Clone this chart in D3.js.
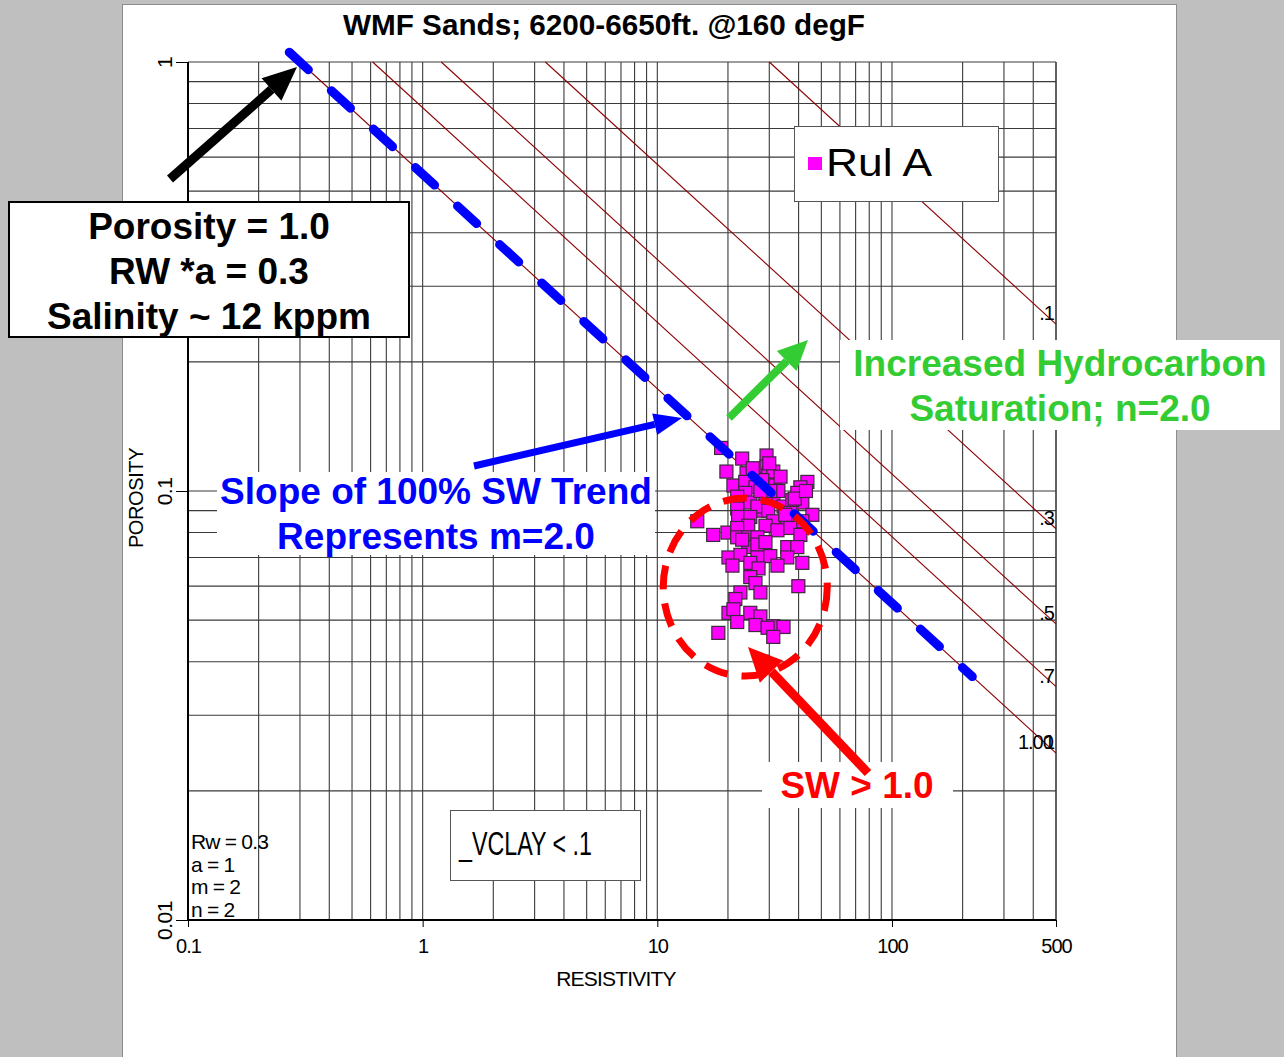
<!DOCTYPE html>
<html>
<head>
<meta charset="utf-8">
<script src="https://cdn.jsdelivr.net/npm/d3@7"></script>
<style>
  body { margin: 0; background: #bfbfbf; }
  svg { display: block; font-family: "Liberation Sans", Arial, sans-serif; }
</style>
</head>
<body>
<div id="chart"></div>
<script>
// Archie parameters shown on the plot
const Rw = 0.3, aPar = 1, mPar = 2, nPar = 2;

// saturation lines and their labels
const swValues = [1.0, 0.7, 0.5, 0.3, 0.1];
const swLabels = ["1.00", ".7", ".5", ".3", ".1"];

// axis ticks
const xTickValues = [0.1, 1, 10, 100, 500];
const xTickLabels = ["0.1", "1", "10", "100", "500"];
const yTickValues = [0.01, 0.1, 1];
const yTickLabels = ["0.01", "0.1", "1"];

// blue dashed 100% SW trend (resistivity range)
const trendR = [0.27, 220];

// Rul A samples (resistivity, porosity)
const resistivity = [
  18.7, 23.0, 29.2, 29.2, 19.7, 24.0, 29.7, 31.2, 21.1, 23.7,
  28.0, 31.9, 43.6, 40.7, 39.5, 41.5, 26.2, 23.7, 21.9, 31.2,
  28.9, 24.9, 27.5, 21.9, 26.7, 29.7, 34.5, 36.9, 45.8, 41.5,
  14.8, 22.1, 24.9, 24.4, 31.2, 28.9, 35.8, 19.9, 17.3, 21.9,
  21.9, 24.4, 26.7, 32.5, 36.9, 40.7, 35.8, 39.5, 24.4, 26.7,
  20.1, 22.6, 26.7, 30.3, 35.8, 41.5, 20.9, 24.9, 27.0, 32.5,
  24.9, 26.2, 39.9, 22.6, 27.5, 21.5, 20.1, 21.1, 24.9, 27.5,
  21.9, 26.2, 31.2, 34.5, 29.5, 31.2, 18.2, 28.0, 32.8, 37.6,
  35.1, 23.0, 28.9, 30.3, 27.5, 33.5, 30.0, 25.5, 38.5, 43.0
];
const porosity = [
  0.126, 0.119, 0.121, 0.114, 0.111, 0.110, 0.109, 0.111, 0.103, 0.105,
  0.106, 0.103, 0.105, 0.102, 0.099, 0.094, 0.102, 0.099, 0.097, 0.098,
  0.094, 0.094, 0.090, 0.091, 0.092, 0.090, 0.092, 0.089, 0.088, 0.085,
  0.085, 0.087, 0.087, 0.083, 0.085, 0.083, 0.086, 0.080, 0.079, 0.082,
  0.078, 0.078, 0.078, 0.081, 0.082, 0.079, 0.074, 0.074, 0.074, 0.075,
  0.070, 0.071, 0.070, 0.0705, 0.070, 0.068, 0.067, 0.068, 0.066, 0.067,
  0.063, 0.061, 0.060, 0.058, 0.058, 0.056, 0.052, 0.053, 0.052, 0.051,
  0.0495, 0.0487, 0.0484, 0.0482, 0.048, 0.0457, 0.0467, 0.040, 0.100, 0.0953,
  0.088, 0.077, 0.076, 0.100, 0.100, 0.108, 0.116, 0.113, 0.096, 0.100
];

const width = 1284, height = 1057;
const marginLeft = 188, marginRight = 1056, marginTop = 62, marginBottom = 920;

const x = d3.scaleLog([0.1, 500], [marginLeft, marginRight]);
const y = d3.scaleLog([0.01, 1], [marginBottom, marginTop]);

// Rt for a given porosity and saturation (Archie)
const archieR = (phi, sw) => aPar * Rw / (Math.pow(phi, mPar) * Math.pow(sw, nPar));
const archiePhi = (r, sw) => Math.pow(aPar * Rw / (r * Math.pow(sw, nPar)), 1 / mPar);

const svg = d3.select("#chart").append("svg")
  .attr("width", width)
  .attr("height", height)
  .attr("viewBox", [0, 0, width, height]);

// page
svg.append("rect").attr("width", width).attr("height", height).attr("fill", "#bfbfbf");
svg.append("rect")
  .attr("x", 122.5).attr("y", 4.5).attr("width", 1054).attr("height", height)
  .attr("fill", "#fff").attr("stroke", "#8c8c8c");

// title
svg.append("text")
  .attr("x", 604).attr("y", 35)
  .attr("text-anchor", "middle")
  .attr("font-size", 30).attr("font-weight", 700)
  .attr("textLength", 522).attr("lengthAdjust", "spacingAndGlyphs")
  .text("WMF Sands; 6200-6650ft. @160 degF");

// log grid
const xGrid = [], yGrid = [];
[0.1, 1, 10, 100].forEach((d) => d3.range(1, 10).forEach((k) => { if (d * k <= 500) xGrid.push(d * k); }));
xGrid.push(500);
[0.01, 0.1].forEach((d) => d3.range(1, 10).forEach((k) => yGrid.push(d * k)));
yGrid.push(1);

const grid = svg.append("g").attr("stroke", "#3a3a3a").attr("stroke-width", 1.1);
grid.selectAll("line.v").data(xGrid).join("line")
  .attr("class", "v")
  .attr("x1", (d) => x(d)).attr("x2", (d) => x(d))
  .attr("y1", marginTop).attr("y2", marginBottom);
grid.selectAll("line.h").data(yGrid).join("line")
  .attr("class", "h")
  .attr("y1", (d) => y(d)).attr("y2", (d) => y(d))
  .attr("x1", marginLeft).attr("x2", marginRight);

// axes
svg.append("line").attr("x1", marginLeft).attr("x2", marginLeft)
  .attr("y1", marginTop).attr("y2", marginBottom).attr("stroke", "#000").attr("stroke-width", 2);
svg.append("line").attr("x1", marginLeft).attr("x2", marginRight)
  .attr("y1", marginBottom).attr("y2", marginBottom).attr("stroke", "#000").attr("stroke-width", 2);

svg.append("g")
  .attr("transform", `translate(0,${marginBottom})`)
  .call(d3.axisBottom(x).tickValues(xTickValues).tickFormat((d, i) => xTickLabels[i]).tickSize(7).tickPadding(12))
  .call((g) => g.select(".domain").remove())
  .call((g) => g.selectAll(".tick line").attr("stroke", "#000"))
  .call((g) => g.selectAll(".tick text")
    .attr("font-size", 20).attr("fill", "#000").attr("letter-spacing", -1)
    .attr("font-family", "Liberation Sans, Arial, sans-serif"));

svg.append("g")
  .attr("transform", `translate(${marginLeft},0)`)
  .call(d3.axisLeft(y).tickValues(yTickValues).tickFormat((d, i) => yTickLabels[i]).tickSize(12))
  .call((g) => g.select(".domain").remove())
  .call((g) => g.selectAll(".tick line").attr("stroke", "#000"))
  .call((g) => g.selectAll(".tick text")
    .attr("font-size", 21).attr("fill", "#000").attr("letter-spacing", -0.5)
    .attr("font-family", "Liberation Sans, Arial, sans-serif")
    .attr("transform", "rotate(-90)")
    .attr("x", 0).attr("y", -16).attr("dy", 0)
    .attr("text-anchor", "middle"));

svg.append("text")
  .attr("x", 616).attr("y", 986)
  .attr("text-anchor", "middle").attr("font-size", 21).attr("letter-spacing", -0.8)
  .text("RESISTIVITY");
svg.append("text")
  .attr("transform", "translate(143,498) rotate(-90)")
  .attr("text-anchor", "middle").attr("font-size", 20).attr("letter-spacing", -0.4)
  .text("POROSITY");

// saturation lines
const lineGen = d3.line().x((d) => x(d[0])).y((d) => y(d[1]));
svg.append("g")
  .selectAll("path")
  .data(swValues)
  .join("path")
  .attr("d", (sw) => lineGen([[archieR(1, sw), 1], [500, archiePhi(500, sw)]]))
  .attr("fill", "none")
  .attr("stroke", "#8b0000")
  .attr("stroke-width", 1.1);

const swText = svg.append("g")
  .selectAll("text")
  .data(swValues)
  .join("text")
  .attr("x", marginRight - 2)
  .attr("y", (sw) => y(archiePhi(500, sw)) - 4)
  .attr("text-anchor", "end")
  .attr("font-size", 20)
  .attr("letter-spacing", -1)
  .text((sw, i) => swLabels[i]);
// overprinted "1" on the last digit of the 1.00 label
swText.filter((sw) => sw === 1)
  .append("tspan").attr("dx", -9).text("1");

// parameter text
const paramLines = [`Rw = ${Rw}`, `a = ${aPar}`, `m = ${mPar}`, `n = ${nPar}`];
svg.append("g")
  .selectAll("text")
  .data(paramLines)
  .join("text")
  .attr("x", 191)
  .attr("y", (d, i) => 849 + i * 22.7)
  .attr("font-size", 21)
  .attr("letter-spacing", -0.8)
  .text((d) => d);

// VCLAY box
svg.append("rect").attr("x", 450.5).attr("y", 810.5).attr("width", 190).attr("height", 70)
  .attr("fill", "#fff").attr("stroke", "#555");
svg.append("text").attr("x", 459).attr("y", 855)
  .attr("font-size", 34)
  .attr("textLength", 133).attr("lengthAdjust", "spacingAndGlyphs")
  .text("_VCLAY < .1");

// samples
const I = d3.range(resistivity.length);
const size = 13;
svg.append("g")
  .selectAll("rect")
  .data(I)
  .join("rect")
  .attr("x", (i) => x(resistivity[i]) - size / 2)
  .attr("y", (i) => y(porosity[i]) - size / 2)
  .attr("width", size)
  .attr("height", size)
  .attr("fill", "#ff00ff")
  .attr("stroke", "#3a2a3a")
  .attr("stroke-width", 1.2);

// blue dashed SW = 1 trend
svg.append("path")
  .attr("d", lineGen(trendR.map((r) => [r, archiePhi(r, 1)])))
  .attr("fill", "none")
  .attr("stroke", "#0000ff")
  .attr("stroke-width", 9)
  .attr("stroke-linecap", "round")
  .attr("stroke-dasharray", "26 31");

// red dashed ellipse round the SW > 1 samples
svg.append("ellipse")
  .attr("cx", x(23.7)).attr("cy", y(0.0597))
  .attr("rx", 82).attr("ry", 89)
  .attr("fill", "none")
  .attr("stroke", "#ff0000")
  .attr("stroke-width", 7)
  .attr("stroke-dasharray", "24 14");

// legend
svg.append("rect").attr("x", 794.5).attr("y", 126.5).attr("width", 204).attr("height", 75)
  .attr("fill", "#fff").attr("stroke", "#555");
svg.append("rect").attr("x", 808).attr("y", 157).attr("width", 14).attr("height", 13).attr("fill", "#ff00ff");
svg.append("text").attr("x", 826).attr("y", 176).attr("font-size", 38)
  .attr("textLength", 106).attr("lengthAdjust", "spacingAndGlyphs").text("Rul A");

// arrows
function arrow(x1, y1, x2, y2, color, w, headLen, headW) {
  const ang = Math.atan2(y2 - y1, x2 - x1);
  const bx = x2 - headLen * Math.cos(ang), by = y2 - headLen * Math.sin(ang);
  svg.append("line")
    .attr("x1", x1).attr("y1", y1).attr("x2", bx).attr("y2", by)
    .attr("stroke", color).attr("stroke-width", w);
  const px = Math.sin(ang) * headW / 2, py = -Math.cos(ang) * headW / 2;
  svg.append("path")
    .attr("d", `M${x2},${y2}L${bx + px},${by + py}L${bx - px},${by - py}Z`)
    .attr("fill", color);
}

// left info box
svg.append("rect").attr("x", 9).attr("y", 202).attr("width", 400).attr("height", 135)
  .attr("fill", "#fff").attr("stroke", "#000").attr("stroke-width", 2);
const infoLines = ["Porosity = 1.0", "RW *a = 0.3", "Salinity ~ 12 kppm"];
svg.append("g")
  .selectAll("text")
  .data(infoLines)
  .join("text")
  .attr("x", 209)
  .attr("y", (d, i) => 239 + i * 45)
  .attr("text-anchor", "middle")
  .attr("font-size", 37)
  .attr("font-weight", 700)
  .text((d) => d);
arrow(170, 179, 297, 67, "#000", 9, 34, 30);

// green callout
svg.append("rect").attr("x", 840).attr("y", 340).attr("width", 440).attr("height", 90).attr("fill", "#fff");
svg.append("g")
  .selectAll("text")
  .data(["Increased Hydrocarbon", "Saturation; n=2.0"])
  .join("text")
  .attr("x", 1060)
  .attr("y", (d, i) => 376 + i * 45)
  .attr("text-anchor", "middle")
  .attr("font-size", 37)
  .attr("font-weight", 700)
  .attr("fill", "#33cc33")
  .text((d) => d);
arrow(729, 418, 808, 340, "#33cc33", 8, 30, 28);

// blue callout
svg.append("rect").attr("x", 217).attr("y", 472).attr("width", 438).attr("height", 83).attr("fill", "#fff");
svg.append("g")
  .selectAll("text")
  .data(["Slope of 100% SW Trend", "Represents m=2.0"])
  .join("text")
  .attr("x", 436)
  .attr("y", (d, i) => 504 + i * 45)
  .attr("text-anchor", "middle")
  .attr("font-size", 37)
  .attr("font-weight", 700)
  .attr("fill", "#0000ff")
  .text((d) => d);
arrow(474, 466, 682, 418, "#0000ff", 7, 28, 22);

// red callout
svg.append("rect").attr("x", 762).attr("y", 762).attr("width", 191).attr("height", 46).attr("fill", "#fff");
svg.append("text").attr("x", 857).attr("y", 798)
  .attr("text-anchor", "middle").attr("font-size", 37).attr("font-weight", 700)
  .attr("fill", "#ff0000").text("SW > 1.0");
arrow(868, 773, 748, 647, "#ff0000", 9, 34, 32);
</script>
</body>
</html>
